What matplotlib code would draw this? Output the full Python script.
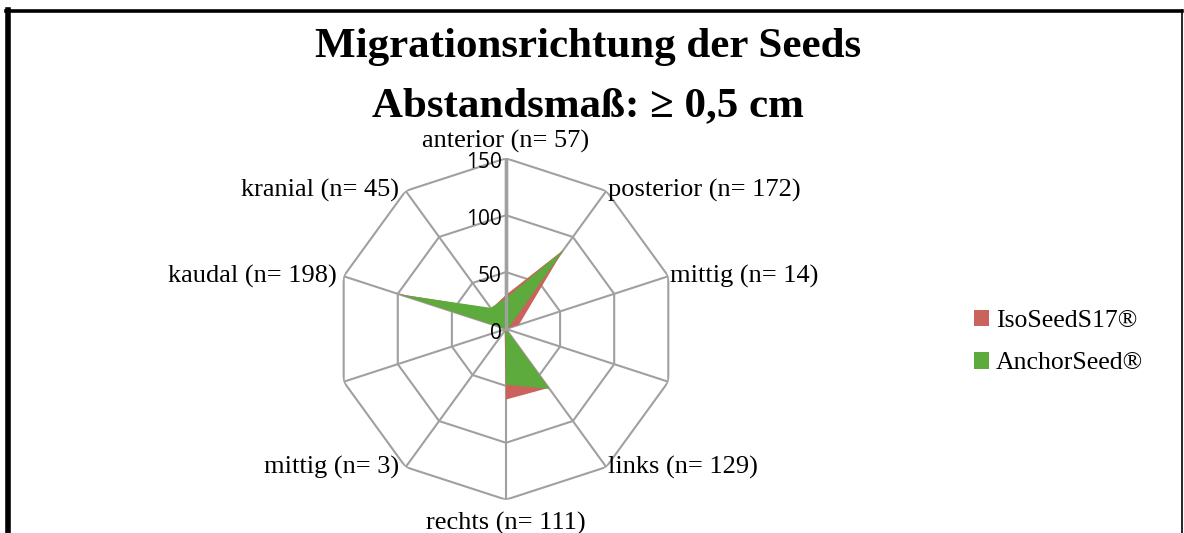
import numpy as np
import matplotlib.pyplot as plt
from matplotlib.lines import Line2D
from matplotlib.patches import Patch

# categories in clockwise order starting at the top (two spokes carry no label)
categories = ['anterior (n= 57)', 'posterior (n= 172)', 'mittig (n= 14)', '',
              'links (n= 129)', 'rechts (n= 111)', 'mittig (n= 3)', '',
              'kaudal (n= 198)', 'kranial (n= 45)']
isoseed = [30, 86, 12, 0, 64, 62, 2, 0, 100, 22]
anchorseed = [27, 86, 2, 0, 65, 49, 1, 0, 98, 23]
ring_ticks = [0, 50, 100, 150]
series_names = ['IsoSeedS17®', 'AnchorSeed®']

RED = '#c9635b'
GREEN = '#5cab3c'
GRID = '#a0a0a0'
SERIF = 'Liberation Serif'

fig = plt.figure(figsize=(11.84, 5.33), dpi=100)
ax = fig.add_axes([0.2832, 0.0625, 0.2883, 0.6405], projection='polar')
ax.set_theta_zero_location('N')
ax.set_theta_direction(-1)
ax.set_ylim(0, 150)
ax.grid(False)
ax.spines['polar'].set_visible(False)
ax.set_xticks([])
ax.set_yticks([])
ax.patch.set_alpha(0)

n = len(categories)
theta = np.linspace(0, 2 * np.pi, n, endpoint=False)
closed = np.append(theta, theta[0])

# decagon rings
for r in ring_ticks[1:]:
    ax.plot(closed, [r] * (n + 1), color=GRID, lw=1.5, zorder=1)
# spokes (the top one is the value axis, a bit heavier)
for i, t in enumerate(theta):
    ax.plot([t, t], [0, 150], color=GRID, lw=2.4 if i == 0 else 1.5, zorder=1)

ax.fill(closed, np.append(isoseed, isoseed[0]), color=RED, lw=0, zorder=2)
ax.fill(closed, np.append(anchorseed, anchorseed[0]), color=GREEN, lw=0, zorder=3)
ax.plot([0, 0], [0, 150], color=GRID, lw=2.4, zorder=4)

# value labels along the top spoke
for r in ring_ticks:
    ax.annotate(str(r), xy=(0, r), xytext=(-3, -3), textcoords='offset points',
                ha='right', va='center', fontsize=15, family='Open Sans', zorder=5)

# category labels
for t, lab in zip(theta, categories):
    if not lab:
        continue
    deg = np.degrees(t)
    if deg == 0:
        ax.annotate(lab, xy=(t, 150), xytext=(0, 12), textcoords='offset points',
                    ha='center', va='center', fontsize=19, family=SERIF)
    elif deg == 180:
        ax.annotate(lab, xy=(t, 150), xytext=(0, -17), textcoords='offset points',
                    ha='center', va='center', fontsize=19, family=SERIF)
    elif deg < 180:
        ax.annotate(lab, xy=(t, 150), xytext=(1, 0), textcoords='offset points',
                    ha='left', va='center', fontsize=19, family=SERIF)
    else:
        ax.annotate(lab, xy=(t, 150), xytext=(-5, 0), textcoords='offset points',
                    ha='right', va='center', fontsize=19, family=SERIF)

fig.text(0.4966, 0.912, 'Migrationsrichtung der Seeds', ha='center', va='center',
         fontsize=31, fontweight='bold', family=SERIF)
fig.text(0.4966, 0.800, 'Abstandsmaß: ≥ 0,5 cm', ha='center', va='center',
         fontsize=31, fontweight='bold', family=SERIF)

handles = [Patch(facecolor=RED, edgecolor='none'),
           Patch(facecolor=GREEN, edgecolor='none')]
fig.legend(handles, series_names, loc='center left', bbox_to_anchor=(0.803, 0.358),
           frameon=False, handlelength=0.6, handleheight=0.6, handletextpad=0.25,
           labelspacing=0.78, prop={'family': SERIF, 'size': 18.5})

# chart frame as in the source export
fig.add_artist(Line2D([0.007, 0.007], [0, 0.981], color='black', lw=4, transform=fig.transFigure))
fig.add_artist(Line2D([0.005, 0.9985], [0.979, 0.979], color='black', lw=2.6, transform=fig.transFigure))
fig.add_artist(Line2D([0.9985, 0.9985], [0, 0.981], color='black', lw=1.2, transform=fig.transFigure))

fig.savefig('out.png', dpi=100)
